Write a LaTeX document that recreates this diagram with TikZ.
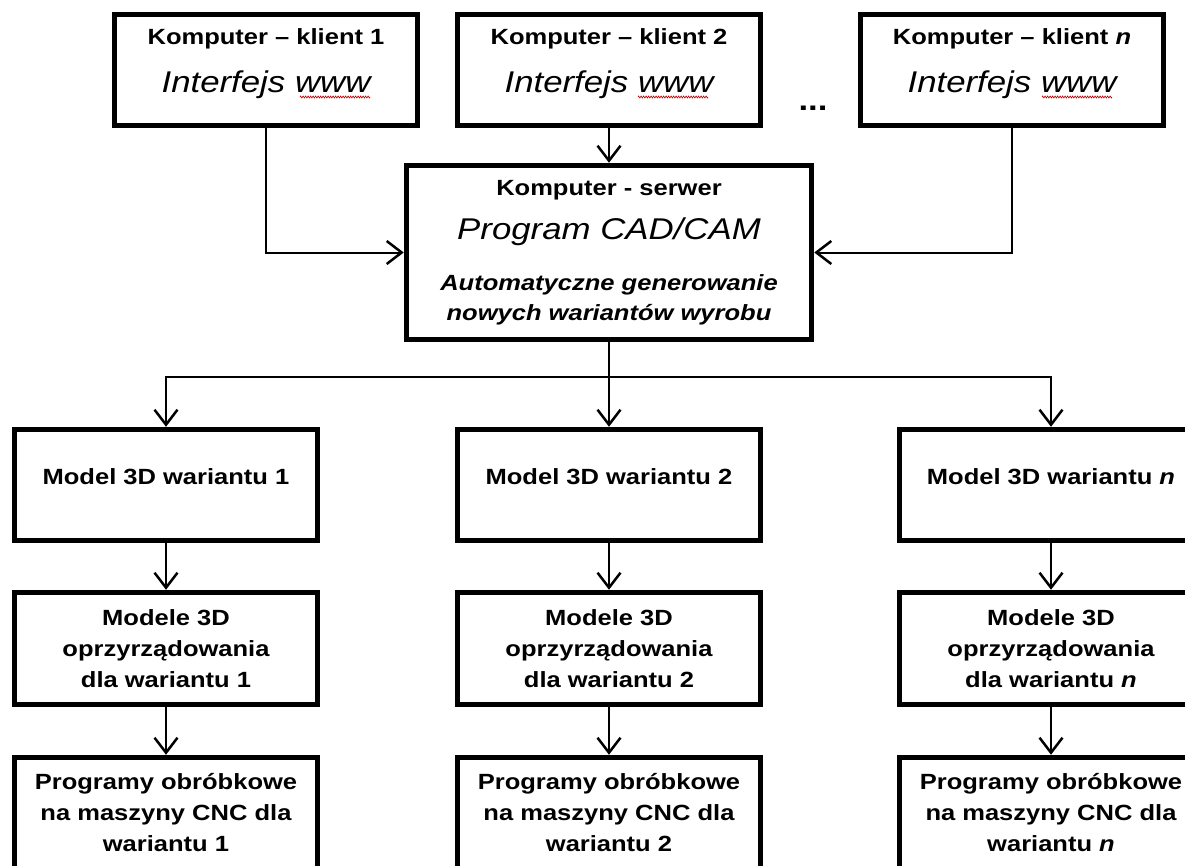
\documentclass[tikz,border=0pt]{standalone}
\usepackage{fontspec}
\setmainfont{Liberation Sans}[FakeStretch=1.16]
\usetikzlibrary{arrows.meta,decorations.pathmorphing}

\newcommand\lbl{\fontsize{22}{31}\selectfont\bfseries}
\newcommand\hdr{\fontsize{30}{36}\selectfont\mdseries\itshape}

\begin{document}
\begin{tikzpicture}[x=1pt,y=-1pt,line width=2pt,
  box/.style={draw,line width=5.5pt,align=center,inner sep=0pt,font=\lbl,
    minimum width=303pt,minimum height=111pt},
  client/.style={box,text depth=18pt},
  model/.style={box,text depth=16pt},
  arr/.style={-{Straight Barb[length=15pt,width=23pt,line width=2.5pt]}},
  spell/.style={red!75!black,line width=0.6pt,decorate,
    decoration={zigzag,amplitude=1pt,segment length=2.5pt}}]

\clip (0,0) rectangle (1185,865);
\fill[white] (0,0) rectangle (1185,865);

\node[client] (k1) at (266,70) {Komputer -- klient 1\\[17pt]\hdr Interfejs www};
\node[client] (k2) at (609,70) {Komputer -- klient 2\\[17pt]\hdr Interfejs www};
\node[client] (kn) at (1012,70) {Komputer -- klient \textit{n}\\[17pt]\hdr Interfejs www};
\node[anchor=base,font=\fontsize{30}{36}\selectfont\bfseries] (dots) at (813,110) {...};

\node[box,minimum width=405pt,minimum height=174pt] (srv) at (609,252.5)
  {Komputer - serwer\\[13pt]\hdr Program CAD/CAM\\[20pt]
   \itshape Automatyczne generowanie\\[-1pt]\itshape nowych wariantów wyrobu};

\coordinate (bus) at (609,377);

\node[model] (m1) at (166,485) {Model 3D wariantu 1};
\node[model] (m2) at (609,485) {Model 3D wariantu 2};
\node[model] (mn) at (1051,485) {Model 3D wariantu \textit{n}};

\node[box,minimum height=112pt] (o1) at (166,648.5)
  {Modele 3D\\oprzyrządowania\\dla wariantu 1};
\node[box,minimum height=112pt] (o2) at (609,648.5)
  {Modele 3D\\oprzyrządowania\\dla wariantu 2};
\node[box,minimum height=112pt] (on) at (1051,648.5)
  {Modele 3D\\oprzyrządowania\\dla wariantu \textit{n}};

\node[box] (p1) at (166,813)
  {Programy obróbkowe\\na maszyny CNC dla\\wariantu 1};
\node[box] (p2) at (609,813)
  {Programy obróbkowe\\na maszyny CNC dla\\wariantu 2};
\node[box] (pn) at (1051,813)
  {Programy obróbkowe\\na maszyny CNC dla\\wariantu \textit{n}};

\draw[arr] (k1) |- (srv);
\draw[arr] (k2) -- (srv);
\draw[arr] (kn) |- (srv);
\draw (srv) -- (bus);
\draw[arr] (bus) -| (m1);
\draw[arr] (bus) -- (m2);
\draw[arr] (bus) -| (mn);
\draw[arr] (m1) -- (o1);
\draw[arr] (m2) -- (o2);
\draw[arr] (mn) -- (on);
\draw[arr] (o1) -- (p1);
\draw[arr] (o2) -- (p2);
\draw[arr] (on) -- (pn);

% spelling marks under www
\draw[spell] ([shift={(34,27)}]k1.center) -- ++(70,0);
\draw[spell] ([shift={(29,27)}]k2.center) -- ++(70,0);
\draw[spell] ([shift={(30,27)}]kn.center) -- ++(70,0);

\end{tikzpicture}
\end{document}
